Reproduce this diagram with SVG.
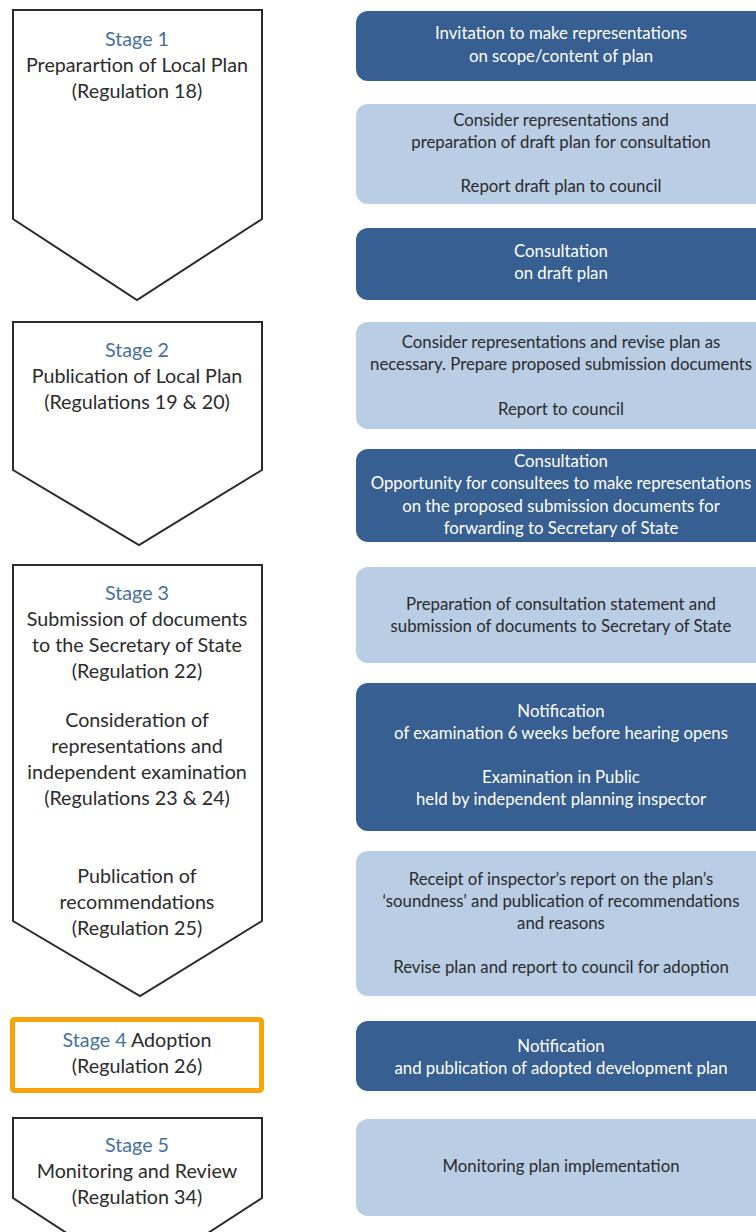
<svg xmlns="http://www.w3.org/2000/svg" width="756" height="1232" viewBox="0 0 756 1232">
<style>
.chev{fill:#fff;stroke:#2b2b2b;stroke-width:2;stroke-linejoin:miter}
.dark{fill:#375F91}
.light{fill:#B9CDE5}
.lt{font-family:Lato,"Liberation Sans",sans-serif;font-size:19.7px;fill:#2b2b2b;text-anchor:middle}
.st{fill:#4470A0}
.rt{font-family:Lato,"Liberation Sans",sans-serif;font-size:16.8px;text-anchor:middle}
.w{fill:#ffffff}
.k{fill:#2b2b2b}
</style>
<rect width="756" height="1232" fill="#fff"/>
<g id="stage1">
<path class="chev" d="M13,10 H262 V219 L137,300 L13,219 Z"/>
<text class="lt"><tspan class="st" x="137" y="46">Stage 1</tspan><tspan x="137" y="72">Preparartion of Local Plan</tspan><tspan x="137" y="98">(Regulation 18)</tspan></text>
</g>
<g id="stage2">
<path class="chev" d="M13,322 H262 V470 L139,545 L13,470 Z"/>
<text class="lt"><tspan class="st" x="137" y="357">Stage 2</tspan><tspan x="137" y="383">Publication of Local Plan</tspan><tspan x="137" y="409">(Regulations 19 &amp; 20)</tspan></text>
</g>
<g id="stage3">
<path class="chev" d="M13,565 H262 V921 L140,996 L13,921 Z"/>
<text class="lt"><tspan class="st" x="137" y="600">Stage 3</tspan><tspan x="137" y="626">Submission of documents</tspan><tspan x="137" y="652">to the Secretary of State</tspan><tspan x="137" y="678">(Regulation 22)</tspan><tspan x="137" y="727">Consideration of</tspan><tspan x="137" y="753">representations and</tspan><tspan x="137" y="779">independent examination</tspan><tspan x="137" y="805">(Regulations 23 &amp; 24)</tspan><tspan x="137" y="883">Publication of</tspan><tspan x="137" y="909">recommendations</tspan><tspan x="137" y="935">(Regulation 25)</tspan></text>
</g>
<g id="stage4">
<rect x="12.5" y="1019.5" width="249" height="71" rx="2" fill="#fff" stroke="#F5A50A" stroke-width="5"/>
<text class="lt"><tspan class="st" x="137" y="1047">Stage 4</tspan><tspan> Adoption</tspan><tspan x="137" y="1073">(Regulation 26)</tspan></text>
</g>
<g id="stage5">
<path class="chev" d="M13,1118 H262 V1198 L137,1279 L13,1198 Z"/>
<text class="lt"><tspan class="st" x="137" y="1152">Stage 5</tspan><tspan x="137" y="1178">Monitoring and Review</tspan><tspan x="137" y="1204">(Regulation 34)</tspan></text>
</g>
<g id="box1">
<rect class="dark" x="356" y="11" width="420" height="70" rx="12"/>
<text class="rt w"><tspan x="561" y="39">Invitation to make representations</tspan><tspan x="561" y="62">on scope/content of plan</tspan></text>
</g>
<g id="box2">
<rect class="light" x="356" y="104" width="420" height="100" rx="12"/>
<text class="rt k"><tspan x="561" y="126">Consider representations and</tspan><tspan x="561" y="148">preparation of draft plan for consultation</tspan><tspan x="561" y="192">Report draft plan to council</tspan></text>
</g>
<g id="box3">
<rect class="dark" x="356" y="228" width="420" height="72" rx="12"/>
<text class="rt w"><tspan x="561" y="257">Consultation</tspan><tspan x="561" y="279">on draft plan</tspan></text>
</g>
<g id="box4">
<rect class="light" x="356" y="322" width="420" height="107" rx="12"/>
<text class="rt k"><tspan x="561" y="348">Consider representations and revise plan as</tspan><tspan x="561" y="370">necessary. Prepare proposed submission documents</tspan><tspan x="561" y="415">Report to council</tspan></text>
</g>
<g id="box5">
<rect class="dark" x="356" y="449" width="420" height="93" rx="12"/>
<text class="rt w"><tspan x="561" y="467">Consultation</tspan><tspan x="561" y="489">Opportunity for consultees to make representations</tspan><tspan x="561" y="512">on the proposed submission documents for</tspan><tspan x="561" y="534">forwarding to Secretary of State</tspan></text>
</g>
<g id="box6">
<rect class="light" x="356" y="567" width="420" height="96" rx="12"/>
<text class="rt k"><tspan x="561" y="610">Preparation of consultation statement and</tspan><tspan x="561" y="632">submission of documents to Secretary of State</tspan></text>
</g>
<g id="box7">
<rect class="dark" x="356" y="683" width="420" height="148" rx="12"/>
<text class="rt w"><tspan x="561" y="717">Notification</tspan><tspan x="561" y="739">of examination 6 weeks before hearing opens</tspan><tspan x="561" y="783">Examination in Public</tspan><tspan x="561" y="805">held by independent planning inspector</tspan></text>
</g>
<g id="box8">
<rect class="light" x="356" y="851" width="420" height="145" rx="12"/>
<text class="rt k"><tspan x="561" y="885">Receipt of inspector’s report on the plan’s</tspan><tspan x="561" y="907">‘soundness’ and publication of recommendations</tspan><tspan x="561" y="929">and reasons</tspan><tspan x="561" y="973">Revise plan and report to council for adoption</tspan></text>
</g>
<g id="box9">
<rect class="dark" x="356" y="1021" width="420" height="70" rx="12"/>
<text class="rt w"><tspan x="561" y="1052">Notification</tspan><tspan x="561" y="1074">and publication of adopted development plan</tspan></text>
</g>
<g id="box10">
<rect class="light" x="356" y="1119" width="420" height="97" rx="12"/>
<text class="rt k"><tspan x="561" y="1172">Monitoring plan implementation</tspan></text>
</g>
<g id="connectors"/>
</svg>
